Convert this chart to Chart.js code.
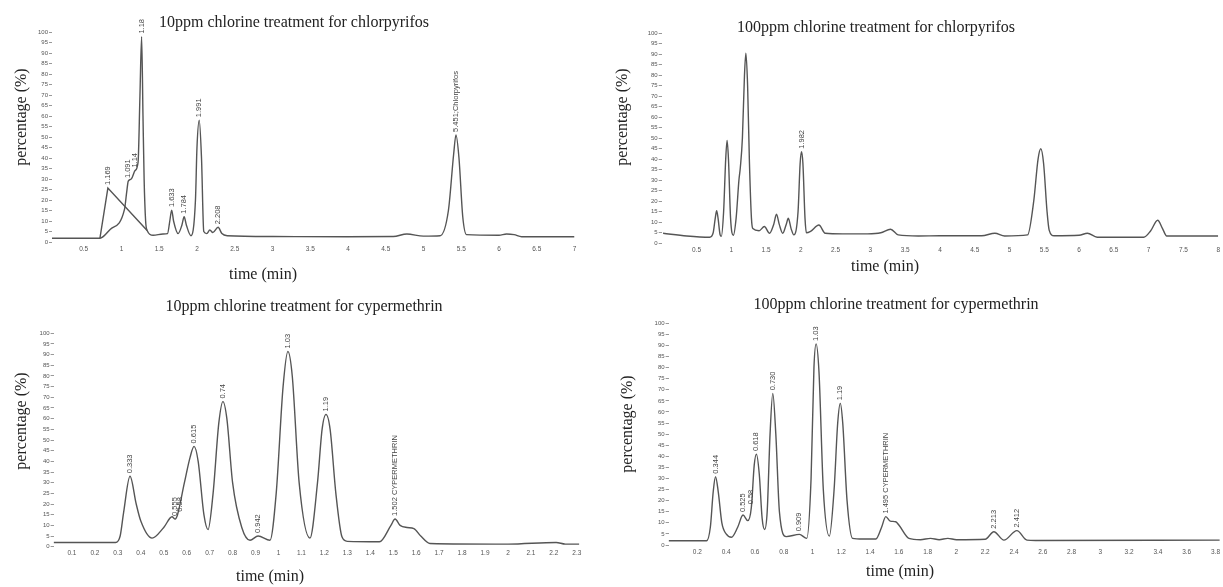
<!DOCTYPE html>
<html>
<head>
<meta charset="utf-8">
<script src="https://cdn.jsdelivr.net/npm/chart.js@4.4.1/dist/chart.umd.min.js"></script>
<style>
  body { margin: 0; background: #fff; }
  #wrap { position: relative; width: 1223px; height: 587px; overflow: hidden; }
  .panel { position: absolute; }
</style>
</head>
<body>
<div id="wrap">
  <div class="panel" style="left:0;top:0;width:600px;height:290px"><canvas id="c1"></canvas></div>
  <div class="panel" style="left:600px;top:0;width:623px;height:290px"><canvas id="c2"></canvas></div>
  <div class="panel" style="left:0;top:290px;width:600px;height:297px"><canvas id="c3"></canvas></div>
  <div class="panel" style="left:600px;top:290px;width:623px;height:297px"><canvas id="c4"></canvas></div>
</div>
<script>
// y ticks shared by all four chromatograms
const yTicks = [0,5,10,15,20,25,30,35,40,45,50,55,60,65,70,75,80,85,90,95,100];

// 10ppm chlorpyrifos
const p1XTicks = [0.5,1,1.5,2,2.5,3,3.5,4,4.5,5,5.5,6,6.5,7];
const p1Time = [0.08,0.4,0.715,0.85,1.04,1.07,1.09,1.13,1.18,1.22,1.245,1.267,1.285,1.3,1.32,1.34,1.42,1.55,1.61,1.64,1.665,1.69,1.75,1.8,1.83,1.86,1.92,1.98,2.0,2.03,2.06,2.09,2.13,2.17,2.21,2.28,2.33,2.4,3,4,4.6,4.78,5.0,5.22,5.33,5.4,5.43,5.47,5.52,5.57,6.0,6.1,6.2,6.3,7.0];
const p1Pct  = [1.8,1.8,1.8,6,15.5,24,29,30,34,38,70,97.8,60,30,10,5.5,3.2,3.8,4,10,15.2,10,4,8,12,8,3,20,45,58,40,5,4,5.7,4.5,7,4,3,2.6,2.5,2.6,3.8,2.8,3,15,42,51,40,12,3.5,3.2,3.8,3.5,2.5,2.5];
const p1SideTime = [0.715,0.82,1.34];
const p1SidePct  = [1.8,25.7,5.5];
const p1PeakTime = [0.82,1.09,1.18,1.267,1.665,1.83,2.03,2.28,5.43];
const p1PeakPct  = [25.7,29,34,97.8,15.2,12,58,7,51];
const p1PeakText = ['1.169','1.091','1.14','1.18','1.633','1.784','1.991','2.208','5.451;Chlorpyrifos'];

// 100ppm chlorpyrifos
const p2XTicks = [0.5,1,1.5,2,2.5,3,3.5,4,4.5,5,5.5,6,6.5,7,7.5,8];
const p2Time = [0.02,0.36,0.69,0.74,0.77,0.79,0.81,0.84,0.857,0.89,0.92,0.94,0.96,0.99,1.03,1.07,1.11,1.13,1.16,1.19,1.21,1.235,1.26,1.29,1.31,1.4,1.476,1.55,1.61,1.65,1.69,1.74,1.79,1.82,1.86,1.9,1.96,1.99,2.01,2.03,2.06,2.08,2.14,2.26,2.35,2.6,2.96,3.15,3.29,3.4,3.69,4.0,4.6,4.79,4.93,5.26,5.35,5.41,5.45,5.49,5.54,5.57,5.64,6.0,6.12,6.26,6.93,7.03,7.13,7.2,7.26,8.0];
const p2Pct  = [4.8,3.5,2.9,5,12,15.5,12,4,3.3,15,40,49,40,12,3.8,12,30,36,50,80,90.5,75,40,12,7,6,8,4.8,9,13.8,9,4.8,9,11.9,7,4,15,38,43.6,38,12,5,5.7,8.7,4.8,4.5,4.5,5,6.7,4,3.5,3.6,3.6,4.8,3.5,4,20.6,40,45,38,15,6.3,3.6,3.8,4.8,2.9,2.9,6,11,7,3.5,3.5];
const p2PeakTime = [2.01];
const p2PeakPct  = [43.6];
const p2PeakText = ['1.982'];

// 10ppm cypermethrin
const p3XTicks = [0.1,0.2,0.3,0.4,0.5,0.6,0.7,0.8,0.9,1,1.1,1.2,1.3,1.4,1.5,1.6,1.7,1.8,1.9,2,2.1,2.2,2.3];
const p3Time = [0.02,0.29,0.31,0.325,0.353,0.38,0.4,0.449,0.5,0.536,0.55,0.56,0.59,0.615,0.632,0.65,0.675,0.693,0.715,0.74,0.758,0.775,0.8,0.84,0.876,0.911,0.963,0.99,1.02,1.041,1.06,1.09,1.137,1.17,1.19,1.207,1.225,1.25,1.277,1.3,1.44,1.49,1.508,1.53,1.56,1.59,1.62,1.66,2.0,2.21,2.25,2.31];
const p3Pct  = [2,2,5,16,33,20,12,4,9,14,13,15,30,42,47,40,15,8,25,58,68,60,30,9,3,5,3,25,75,91.5,80,30,4,30,55,62,55,25,4.5,2.5,2.3,10,13,10,9,8.5,5,1.5,1.2,2,1.2,1.2];
const p3PeakTime = [0.353,0.55,0.57,0.632,0.758,0.911,1.041,1.207,1.508];
const p3PeakPct  = [33,13,15,47,68,5,91.5,62,13];
const p3PeakText = ['0.333','0.555','0.58','0.615','0.74','0.942','1.03','1.19','1.502 CYPERMETHRIN'];

// 100ppm cypermethrin
const p4XTicks = [0.2,0.4,0.6,0.8,1,1.2,1.4,1.6,1.8,2,2.2,2.4,2.6,2.8,3,3.2,3.4,3.6,3.8];
const p4Time = [0,0.264,0.29,0.31,0.326,0.345,0.37,0.4,0.437,0.48,0.517,0.55,0.575,0.595,0.61,0.63,0.65,0.667,0.685,0.705,0.724,0.745,0.77,0.817,0.909,0.96,0.99,1.01,1.025,1.045,1.075,1.117,1.15,1.175,1.193,1.21,1.24,1.278,1.35,1.44,1.48,1.509,1.54,1.578,1.6,1.67,1.75,1.82,1.88,1.94,2.0,2.2,2.26,2.33,2.42,2.49,2.55,3.83];
const p4Pct  = [1.9,1.9,8,24,30.8,24,10,5,3.5,8,13.5,11,17,36,41,32,12,7,15,50,68.4,50,15,3.8,4.8,3,30,80,90.7,78,25,4,25,55,63.9,55,20,3,2.7,2.7,8,12.8,10.8,10.5,9,3,2.4,3,2.4,3,2.4,2.6,6,2.2,6.5,2.2,2,2.2];
const p4PeakTime = [0.326,0.517,0.575,0.61,0.724,0.909,1.025,1.193,1.509,2.26,2.42];
const p4PeakPct  = [30.8,13.5,17,41,68.4,4.8,90.7,63.9,12.8,6,6.5];
const p4PeakText = ['0.344','0.525','0.58','0.618','0.730','0.909','1.03','1.19','1.495 CYPERMETHRIN','2.213','2.412'];

const lineColor = '#555';
const textColor = '#222';
const yAxisW = 22;   // fixed room for y tick labels
const xAxisH = 14;   // fixed room for x tick labels

// page-level layout of each panel (canvas offset, padding around chart area, text anchors)
const panels = {
  c1: { ox: 0, oy: 0, pad: { left: 52 - yAxisW, right: 25.5, top: 32, bottom: 48 - xAxisH }, xMin: 0.08, xMax: 7,
        title: '10ppm chlorine treatment for chlorpyrifos', titleAt: [294, 23], xTitleAt: [263, 275], yTitleAt: [22, 117] },
  c2: { ox: 600, oy: 0, pad: { left: 61.7 - yAxisW, right: 1.3, top: 33.3, bottom: 46.7 - xAxisH }, xMin: 0, xMax: 8,
        title: '100ppm chlorine treatment for chlorpyrifos', titleAt: [876, 28], xTitleAt: [885, 267], yTitleAt: [623, 117] },
  c3: { ox: 0, oy: 290, pad: { left: 53.6 - yAxisW, right: 16.3, top: 43.3, bottom: 40.3 - xAxisH }, xMin: 0.02, xMax: 2.33,
        title: '10ppm chlorine treatment for cypermethrin', titleAt: [304, 307], xTitleAt: [270, 577], yTitleAt: [22, 421] },
  c4: { ox: 600, oy: 290, pad: { left: 68.6 - yAxisW, right: 1, top: 33.3, bottom: 42 - xAxisH }, xMin: 0, xMax: 3.83,
        title: '100ppm chlorine treatment for cypermethrin', titleAt: [896, 305], xTitleAt: [900, 572], yTitleAt: [628, 424] }
};

const textPlugin = {
  id: 'chromText',
  afterDatasetsDraw(chart) {
    const p = panels[chart.canvas.id];
    const ctx = chart.ctx;
    ctx.save();
    ctx.fillStyle = textColor;
    ctx.textAlign = 'center';
    ctx.textBaseline = 'middle';
    ctx.font = '16px "Liberation Serif", "DejaVu Serif", serif';
    ctx.fillText(p.title, p.titleAt[0] - p.ox, p.titleAt[1] - p.oy);
    ctx.fillText('time (min)', p.xTitleAt[0] - p.ox, p.xTitleAt[1] - p.oy);
    ctx.save();
    ctx.translate(p.yTitleAt[0] - p.ox, p.yTitleAt[1] - p.oy);
    ctx.rotate(-Math.PI / 2);
    ctx.fillText('percentage (%)', 0, 0);
    ctx.restore();

    // retention-time labels above peaks
    const xs = chart.scales.x, ys = chart.scales.y;
    ctx.font = '7.5px "Liberation Sans", Arial, sans-serif';
    ctx.fillStyle = '#444';
    ctx.textAlign = 'left';
    p.peakTime.forEach((t, i) => {
      const px = xs.getPixelForValue(t);
      const py = ys.getPixelForValue(p.peakPct[i]) - 3;
      ctx.save();
      ctx.translate(px, py);
      ctx.rotate(-Math.PI / 2);
      ctx.fillText(p.peakText[i], 0, 0);
      ctx.restore();
    });
    ctx.restore();
  }
};

function toPoints(ts, vs) {
  return ts.map((t, i) => ({ x: t, y: vs[i] }));
}

function makeChart(id, series, xTicks) {
  const p = panels[id];
  new Chart(document.getElementById(id), {
    type: 'line',
    data: {
      datasets: series.map(s => ({
        data: toPoints(s.t, s.v),
        borderColor: lineColor,
        borderWidth: 1.4,
        pointRadius: 0,
        fill: false,
        tension: 0,
        cubicInterpolationMode: s.straight ? 'default' : 'monotone'
      }))
    },
    options: {
      responsive: true,
      maintainAspectRatio: false,
      animation: false,
      layout: { padding: p.pad },
      plugins: { legend: { display: false }, tooltip: { enabled: false } },
      scales: {
        x: {
          type: 'linear', min: p.xMin, max: p.xMax,
          afterFit: s => { s.height = xAxisH; },
          afterBuildTicks: s => { s.ticks = xTicks.map(v => ({ value: v })); },
          grid: { display: false, drawTicks: false },
          border: { display: false },
          ticks: { autoSkip: false, maxRotation: 0, padding: 3, color: '#555',
                   font: { size: 6.5, family: '"Liberation Sans", Arial, sans-serif' },
                   callback: v => String(v) }
        },
        y: {
          min: 0, max: 100,
          afterFit: s => { s.width = yAxisW; },
          afterBuildTicks: s => { s.ticks = yTicks.map(v => ({ value: v })); },
          grid: { display: true, drawOnChartArea: false, drawTicks: true, tickLength: 3, color: '#999' },
          border: { display: false },
          ticks: { autoSkip: false, padding: 1, color: '#555',
                   font: { size: 6, family: '"Liberation Sans", Arial, sans-serif' },
                   callback: v => String(v) }
        }
      }
    },
    plugins: [textPlugin]
  });
}

panels.c1.peakTime = p1PeakTime; panels.c1.peakPct = p1PeakPct; panels.c1.peakText = p1PeakText;
panels.c2.peakTime = p2PeakTime; panels.c2.peakPct = p2PeakPct; panels.c2.peakText = p2PeakText;
panels.c3.peakTime = p3PeakTime; panels.c3.peakPct = p3PeakPct; panels.c3.peakText = p3PeakText;
panels.c4.peakTime = p4PeakTime; panels.c4.peakPct = p4PeakPct; panels.c4.peakText = p4PeakText;

makeChart('c1', [{ t: p1Time, v: p1Pct }, { t: p1SideTime, v: p1SidePct, straight: true }], p1XTicks);
makeChart('c2', [{ t: p2Time, v: p2Pct }], p2XTicks);
makeChart('c3', [{ t: p3Time, v: p3Pct }], p3XTicks);
makeChart('c4', [{ t: p4Time, v: p4Pct }], p4XTicks);
</script>
</body>
</html>
